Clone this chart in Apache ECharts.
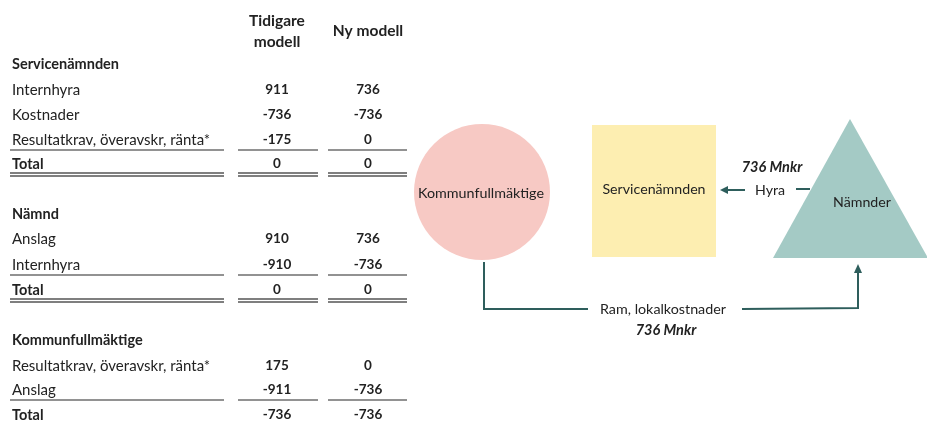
<!DOCTYPE html>
<html><head><meta charset="utf-8">
<script src="https://cdn.jsdelivr.net/npm/echarts@6/dist/echarts.min.js"></script>
<style>html,body{margin:0;padding:0;background:#fff}#c{width:927px;height:424px}</style>
</head><body><div id="c"></div>
<script>
// ---- Data ----
const columnHeaders = [['Tidigare', 'modell'], ['Ny modell']];
const sectionNames = ['Servicenämnden', 'Nämnd', 'Kommunfullmäktige'];
const rowsService = ['Internhyra', 'Kostnader', 'Resultatkrav, överavskr, ränta*', 'Total'];
const prevService = [911, -736, -175, 0];
const newService = [736, -736, 0, 0];
const rowsNamnd = ['Anslag', 'Internhyra', 'Total'];
const prevNamnd = [910, -910, 0];
const newNamnd = [736, -736, 0];
const rowsKf = ['Resultatkrav, överavskr, ränta*', 'Anslag', 'Total'];
const prevKf = [175, -911, -736];
const newKf = [0, -736, -736];
const nodeNames = ['Kommunfullmäktige', 'Servicenämnden', 'Nämnder'];
const flowHyra = ['Hyra', '736 Mnkr'];
const flowRam = ['Ram, lokalkostnader', '736 Mnkr'];

// ---- Layout ----
const FONT = 'Lato, "Open Sans", sans-serif';
const col1X = 277, col2X = 368;
const txtColor = '#222';
const arrowColor = '#2e5e5c';
const g = [];
function text(x, y, t, opts) {
  opts = opts || {};
  g.push({type: 'text', silent: true, z: opts.z || 10, style: {
    x: x, y: y, text: t, fill: opts.fill || txtColor,
    font: (opts.italic ? 'italic ' : '') + (opts.bold ? 'bold ' : '') + (opts.size || 14) + 'px ' + FONT,
    align: opts.align || 'left', verticalAlign: 'middle'
  }});
}
function line(x1, y1, x2, y2, color, w) {
  g.push({type: 'line', silent: true, z: 5, shape: {x1: x1, y1: y1, x2: x2, y2: y2},
    style: {stroke: color, lineWidth: w}});
}
function rule(y, color, w) {
  line(10, y, 224, y, color, w);
  line(238, y, 318, y, color, w);
  line(328, y, 407, y, color, w);
}

// headers
text(col1X, 21, columnHeaders[0][0], {bold: true, align: 'center', size: 15.5});
text(col1X, 42, columnHeaders[0][1], {bold: true, align: 'center', size: 15.5});
text(col2X, 31, columnHeaders[1][0], {bold: true, align: 'center', size: 15.5});

function section(name, headerY, rows, prev, next, rowYs, doubleLine) {
  text(12, headerY, name, {bold: true, size: 14.5});
  rows.forEach(function (r, i) {
    const y = rowYs[i];
    const isTotal = i === rows.length - 1;
    text(12, y, r, {bold: isTotal, size: isTotal ? 14.5 : 15});
    text(col1X, y, String(prev[i]), {bold: true, align: 'center', size: 13.5});
    text(col2X, y, String(next[i]), {bold: true, align: 'center', size: 13.5});
  });
  const n = rows.length;
  rule(rowYs[n - 2] + 10, '#6e6e6e', 1.6);
  if (doubleLine) {
    const y = rowYs[n - 1] + 9;
    rule(y, '#555', 1.3);
    rule(y + 3, '#555', 1.3);
  }
}
section(sectionNames[0], 64, rowsService, prevService, newService, [90, 115, 140, 164], true);
section(sectionNames[1], 214, rowsNamnd, prevNamnd, newNamnd, [239, 265, 290], true);
section(sectionNames[2], 340, rowsKf, prevKf, newKf, [366, 390, 415], false);

// ---- Diagram shapes ----
g.push({type: 'circle', silent: true, z: 1, shape: {cx: 482, cy: 192, r: 68},
  style: {fill: '#f7c9c4'}});
text(481, 193, nodeNames[0], {align: 'center', size: 14.3});

g.push({type: 'rect', silent: true, z: 1, shape: {x: 592, y: 125, width: 124, height: 132},
  style: {fill: '#fdeeb1'}});
text(654, 189, nodeNames[1], {align: 'center', size: 14.2});

g.push({type: 'polygon', silent: true, z: 1, shape: {points: [[850, 119], [773, 258], [928, 258]]},
  style: {fill: '#a4cac5'}});
text(862, 202, nodeNames[2], {align: 'center', size: 14.2});

// Hyra arrow
line(810, 189, 796, 189, arrowColor, 2);
line(745, 190, 727, 190, arrowColor, 2);
g.push({type: 'polygon', silent: true, z: 6, shape: {points: [[720, 190], [728, 186], [728, 194]]},
  style: {fill: arrowColor}});
text(770, 190, flowHyra[0], {align: 'center', size: 14.2});
text(772, 167, flowHyra[1], {align: 'center', bold: true, italic: true, size: 14.5});

// Ram connector
g.push({type: 'polyline', silent: true, z: 5, shape: {points: [[484, 262], [484, 309], [588, 309]]},
  style: {stroke: arrowColor, lineWidth: 2, fill: null}});
g.push({type: 'polyline', silent: true, z: 5, shape: {points: [[742, 309], [858, 308], [858, 272]]},
  style: {stroke: arrowColor, lineWidth: 2, fill: null}});
g.push({type: 'polygon', silent: true, z: 6, shape: {points: [[858, 264], [854, 273], [862, 273]]},
  style: {fill: arrowColor}});
text(663, 309, flowRam[0], {align: 'center', size: 14.3});
text(666, 330, flowRam[1], {align: 'center', bold: true, italic: true, size: 14.5});

const chart = echarts.init(document.getElementById('c'), null, {renderer: 'canvas'});
chart.setOption({backgroundColor: '#fff', animation: false, graphic: {elements: g}});
</script>
</body></html>
